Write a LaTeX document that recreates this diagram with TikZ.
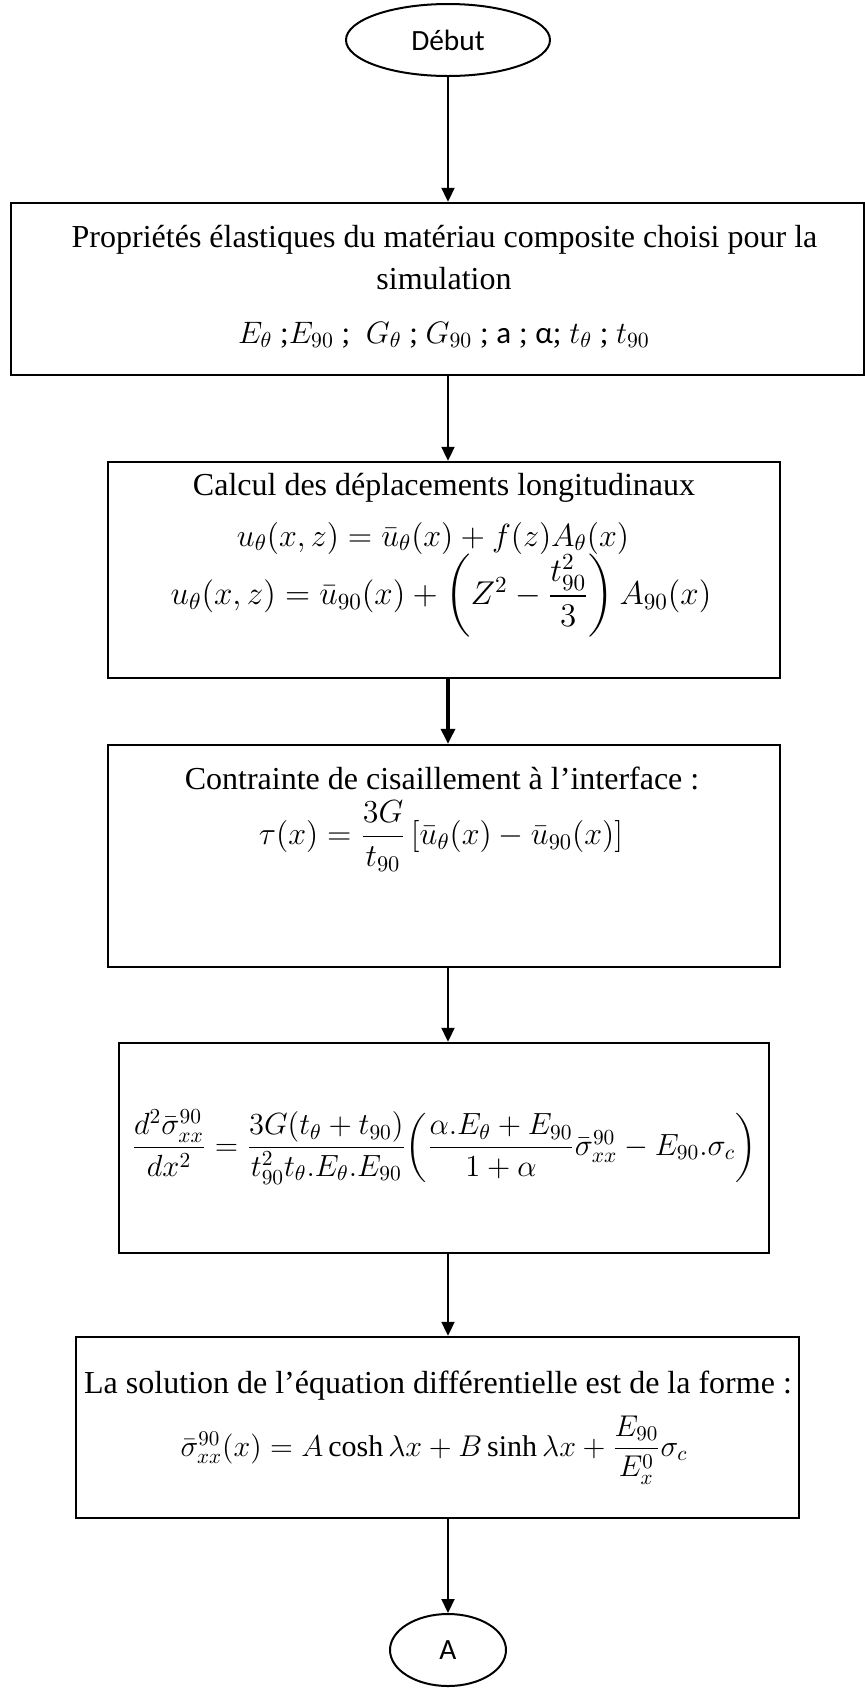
\RequirePackage{fix-cm}
\documentclass[tikz,border=0pt]{standalone}
\usepackage{amsmath}
\usepackage{fontspec}
\setmainfont{Liberation Serif}
\newfontfamily\carlito{Carlito}
\usetikzlibrary{shapes.geometric,arrows.meta}
\begin{document}
\begin{tikzpicture}[x=0.5pt,y=-0.5pt,
  box/.style={draw, rectangle, line width=1.2pt, inner sep=0pt},
  term/.style={draw, ellipse, line width=1pt, inner sep=0pt, minimum height=36pt,
    font=\carlito\fontsize{14.7}{16}\selectfont},
  txt/.style={inner sep=0pt, font=\fontsize{16}{19}\selectfont},
  conn/.style={-{Triangle[width=6.5pt,length=7pt]}, line width=1pt},
  boldconn/.style={-{Triangle[width=7pt,length=7.5pt]}, line width=1.7pt}]
\useasboundingbox (0,0) rectangle (865,1694);
% terminals
\node[term, minimum width=102pt] (deb) at (448,40) {Début};
\node[term, minimum width=58pt] (fin) at (448,1650) {A};
% boxes
\node[box, minimum width=426.5pt, minimum height=86pt] (b1) at (437.5,289) {};
\node[box, minimum width=336pt, minimum height=108pt] (b2) at (444,570) {};
\node[box, minimum width=336pt, minimum height=111pt] (b3) at (444,856) {};
\node[box, minimum width=325pt, minimum height=105pt] (b4) at (444,1148) {};
\node[box, minimum width=361.5pt, minimum height=90.5pt] (b5) at (437.5,1427.5) {};
% texts
\node[txt] (t1a) at (444.5,240) {Propriétés élastiques du matériau composite choisi pour la};
\node[txt] (t1b) at (444,279) {simulation};
\node[txt, font=\fontsize{15.5}{19}\selectfont] (t1c) at (444,335) {$E_\theta$ ;$E_{90}$ ;~ $G_\theta$ ; $G_{90}$ ; {\carlito a} ; {\carlito α}; $t_\theta$ ; $t_{90}$};
\node[txt] (t2a) at (444,488) {Calcul des déplacements longitudinaux};
\node[txt] (t2b) at (433,538) {$u_\theta(x,z)=\bar{u}_\theta(x)+f(z)A_\theta(x)$};
\node[txt, font=\fontsize{16.5}{19}\selectfont] (t2c) at (441,596) {$u_\theta(x,z)=\bar{u}_{90}(x)+\left(Z^2-\dfrac{t_{90}^2}{3}\right)A_{90}(x)$};
\node[txt] (t3a) at (442,778) {Contrainte de cisaillement à l’interface :};
\node[txt] (t3b) at (441,836) {$\tau(x)=\dfrac{3G}{t_{90}}\,[\bar{u}_\theta(x)-\bar{u}_{90}(x)]$};
\node[txt, font=\fontsize{15.3}{18}\selectfont] (t4) at (444,1147) {$\dfrac{d^2\bar{\sigma}_{xx}^{90}}{dx^2}=\dfrac{3G(t_\theta+t_{90})}{t_{90}^2t_\theta.E_\theta.E_{90}}\biggl(\dfrac{\alpha.E_\theta+E_{90}}{1+\alpha}\bar{\sigma}_{xx}^{90}-E_{90}.\sigma_c\biggr)$};
\node[txt] (t5a) at (438,1386) {La solution de l’équation différentielle est de la forme :};
\node[txt, font=\fontsize{15}{18}\selectfont] (t5b) at (434,1450) {$\bar{\sigma}_{xx}^{90}(x)=A\cosh\lambda x+B\sinh\lambda x+\dfrac{E_{90}}{E_x^0}\sigma_c$};
% connectors
\draw[conn] (deb.south) -- (deb.south |- b1.north);
\draw[conn] (deb.south |- b1.south) -- (deb.south |- b2.north);
\draw[boldconn] (deb.south |- b2.south) -- (deb.south |- b3.north);
\draw[conn] (deb.south |- b3.south) -- (deb.south |- b4.north);
\draw[conn] (deb.south |- b4.south) -- (deb.south |- b5.north);
\draw[conn] (deb.south |- b5.south) -- (fin.north);
\end{tikzpicture}
\end{document}
